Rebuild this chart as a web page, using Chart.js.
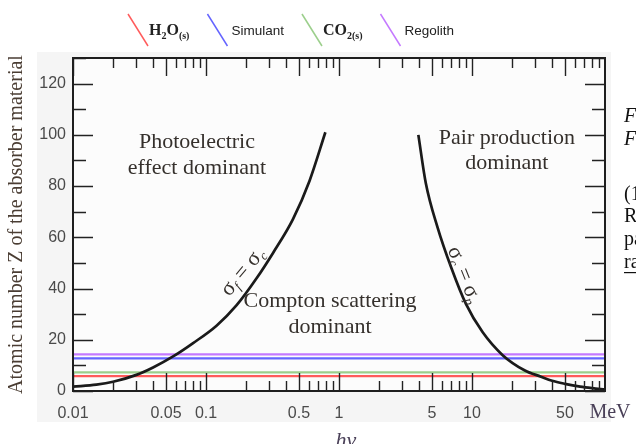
<!DOCTYPE html>
<html><head><meta charset="utf-8">
<script src="https://cdn.jsdelivr.net/npm/chart.js@4.4.1/dist/chart.umd.min.js"></script>
<style>html,body{margin:0;padding:0;background:#fff;}</style>
</head><body>
<canvas id="c" width="636" height="444"></canvas>
<script>
// ---------- data ----------
const seriesNames = ['H₂O₍ₛ₎', 'Simulant', 'CO₂₍ₛ₎', 'Regolith'];
const seriesZ = [5.8, 12.7, 7.3, 14.3];
const energyRange = [0.01, 100];
const photoComptonE = [0.01, 0.015, 0.02, 0.03, 0.04, 0.057, 0.08, 0.12, 0.17, 0.24, 0.32, 0.45, 0.6, 0.79];
const photoComptonZ = [1.7, 2.5, 3.6, 6.3, 9.2, 13.6, 18.7, 25.5, 33.5, 44, 54, 67, 82, 101];
const comptonPairE = [3.95, 4.5, 5.5, 7, 9, 12, 17, 25, 33, 40, 50, 65, 80, 100];
const comptonPairZ = [100, 81, 64, 48, 34, 23, 14, 8, 5.6, 4, 2.8, 1.7, 1.1, 0.6];
const xTickValues = [0.01, 0.05, 0.1, 0.5, 1, 5, 10, 50];
const xTickLabels = ['0.01', '0.05', '0.1', '0.5', '1', '5', '10', '50'];
const yTickValues = [0, 20, 40, 60, 80, 100, 120];
const yRange = [0, 130];
const regionLabels = [['Photoelectric', 'effect dominant'], ['Pair production', 'dominant'], ['Compton scattering', 'dominant']];
const curveLabels = [['σ', 'f', ' = ', 'σ', 'c'], ['σ', 'c', ' = ', 'σ', 'p']];
const axisTitleY = 'Atomic number Z of the absorber material';
const axisTitleX = 'hν';
const unitLabel = 'MeV';
const sideText = ['F', 'F', '(1', 'Re', 'pa', 'ra'];

// ---------- styles ----------
const seriesColors = ['#ff5b5b', '#6464ff', '#9ccf8c', '#c479ff'];
const SERIF = "'Liberation Serif', 'Times New Roman', serif";
const SANS = "'Liberation Sans', Arial, sans-serif";

const hLineSets = seriesNames.map((name, i) => ({
  label: name,
  data: energyRange.map(e => ({ x: e, y: seriesZ[i] })),
  borderColor: seriesColors[i],
  backgroundColor: seriesColors[i],
  borderWidth: 2.2,
  showLine: true,
  pointRadius: 0,
  isLevel: true
}));
const curveSet = (E, Z, name) => ({
  label: name,
  data: E.map((e, i) => ({ x: e, y: Z[i] })),
  borderColor: '#1a1a1a',
  borderWidth: 2.7,
  showLine: true,
  pointRadius: 0,
  cubicInterpolationMode: 'monotone'
});

const subMap = { '₂': '2', '₍': '(', 'ₛ': 's', '₎': ')' };

function drawSegs(ctx, segs, x, y, align) {
  let w = 0;
  segs.forEach(s => { ctx.font = s.font; s.w = ctx.measureText(s.t).width; w += s.w; });
  let cx = align === 'center' ? x - w / 2 : x;
  segs.forEach(s => {
    ctx.font = s.font;
    ctx.fillText(s.t, cx, y + (s.dy || 0));
    cx += s.w;
  });
  return w;
}

const decor = {
  id: 'decor',
  beforeDraw(chart) {
    const { ctx, chartArea: a } = chart;
    ctx.save();
    ctx.fillStyle = '#ffffff';
    ctx.fillRect(0, 0, chart.width, chart.height);
    ctx.fillStyle = '#f5f5f5';
    ctx.fillRect(37, 52, a.right - 37 + 6, 422 - 52);
    ctx.fillStyle = '#fcfcfc';
    ctx.fillRect(a.left, a.top, a.right - a.left, a.bottom - a.top);
    ctx.restore();
  },
  afterDatasetsDraw(chart) {
    const { ctx, scales: { x: xs, y: ys } } = chart;
    ctx.save();
    // region labels
    const anchors = [[0.0855, 92.1], [18.3, 93.9], [0.856, 30]];
    ctx.fillStyle = '#35302c';
    ctx.font = '22px ' + SERIF;
    ctx.textAlign = 'center';
    ctx.textBaseline = 'middle';
    regionLabels.forEach((lines, i) => {
      const px = xs.getPixelForValue(anchors[i][0]);
      const py = ys.getPixelForValue(anchors[i][1]);
      lines.forEach((t, j) => ctx.fillText(t, px, py + (j - (lines.length - 1) / 2) * 25.5));
    });
    // curve labels
    const cAnch = [[0.19, 46.5, -50], [8.7, 45.3, 68]];
    ctx.textAlign = 'left';
    curveLabels.forEach((parts, i) => {
      const px = xs.getPixelForValue(cAnch[i][0]);
      const py = ys.getPixelForValue(cAnch[i][1]);
      ctx.save();
      ctx.translate(px, py);
      ctx.rotate(cAnch[i][2] * Math.PI / 180);
      const segs = parts.map((t, k) => (k === 1 || k === 4)
        ? { t, font: 'italic 13px ' + SERIF, dy: 6 }
        : { t, font: '22px ' + SERIF });
      drawSegs(ctx, segs, 0, 0, 'center');
      ctx.restore();
    });
    ctx.restore();
  },
  afterDraw(chart) {
    const { ctx, chartArea: a, scales: { x: xs, y: ys } } = chart;
    ctx.save();
    ctx.strokeStyle = '#222';
    ctx.lineWidth = 1.4;
    ctx.beginPath();
    for (let d = -2; d <= 1; d++) {
      for (let k = 1; k <= 9; k++) {
        const v = k * Math.pow(10, d);
        const px = Math.round(xs.getPixelForValue(v)) + 0.5;
        const len = (k === 1 || k === 5) ? 18 : 10;
        ctx.moveTo(px, a.bottom); ctx.lineTo(px, a.bottom - len);
        ctx.moveTo(px, a.top); ctx.lineTo(px, a.top + len);
      }
    }
    for (let v = yRange[0]; v <= yRange[1]; v += 10) {
      const py = Math.round(ys.getPixelForValue(v)) + 0.5;
      const len = v % 20 === 0 ? 20 : 13;
      ctx.moveTo(a.left, py); ctx.lineTo(a.left + len, py);
      ctx.moveTo(a.right, py); ctx.lineTo(a.right - len, py);
    }
    ctx.stroke();
    ctx.lineWidth = 2;
    ctx.strokeStyle = '#1e1e1e';
    ctx.strokeRect(a.left, a.top, a.right - a.left, a.bottom - a.top);

    // x title + unit
    ctx.fillStyle = '#4a4058';
    ctx.textAlign = 'center';
    ctx.textBaseline = 'alphabetic';
    ctx.font = 'italic 22px ' + SERIF;
    ctx.fillText(axisTitleX, (a.left + a.right) / 2 + 7, 447);
    ctx.font = '20px ' + SERIF;
    ctx.fillText(unitLabel, a.right + 5, 418);

    // side text (cropped neighbouring text)
    ctx.fillStyle = '#111';
    ctx.textAlign = 'left';
    ctx.textBaseline = 'middle';
    const sideY = [117, 140, 195, 217, 240, 263];
    sideText.forEach((t, i) => {
      ctx.font = (i < 2 ? 'italic ' : '') + '20px ' + SERIF;
      ctx.fillText(t, 624, sideY[i]);
      if (i === sideText.length - 1) ctx.fillRect(624, sideY[i] + 9, 14, 1.2);
    });

    // legend
    let cx = 128;
    const top = 14, bot = 46;
    chart.data.datasets.forEach(ds => {
      if (!ds.isLevel) return;
      ctx.strokeStyle = ds.borderColor;
      ctx.lineWidth = 1.5;
      ctx.beginPath();
      ctx.moveTo(cx, top); ctx.lineTo(cx + 20, bot);
      ctx.stroke();
      const tx = cx + 21;
      ctx.fillStyle = '#222';
      ctx.textBaseline = 'middle';
      let w;
      const chem = [...ds.label].some(ch => subMap[ch]);
      if (chem) {
        const segs = [...ds.label].map(ch => subMap[ch]
          ? { t: subMap[ch], font: 'bold 10px ' + SERIF, dy: 5 }
          : { t: ch, font: 'bold 16px ' + SERIF });
        w = drawSegs(ctx, segs, tx, 31, 'left');
      } else {
        ctx.font = '13.5px ' + SANS;
        ctx.fillText(ds.label, tx + 3, 31);
        w = ctx.measureText(ds.label).width + 3;
      }
      cx = tx + w + 18;
    });
    ctx.restore();
  }
};

new Chart(document.getElementById('c'), {
  type: 'scatter',
  data: {
    datasets: [
      curveSet(photoComptonE, photoComptonZ, 'σf = σc'),
      curveSet(comptonPairE, comptonPairZ, 'σc = σp'),
      ...hLineSets
    ]
  },
  options: {
    responsive: false,
    animation: false,
    layout: { padding: { top: 58, right: 31, left: 0, bottom: 0 } },
    plugins: { legend: { display: false }, tooltip: { enabled: false } },
    scales: {
      x: {
        type: 'logarithmic',
        min: energyRange[0],
        max: energyRange[1],
        grid: { display: false, drawTicks: false },
        border: { display: false },
        afterBuildTicks: s => { s.ticks = xTickValues.map(v => ({ value: v })); },
        afterFit: s => { s.height = 53; },
        ticks: {
          autoSkip: false, maxRotation: 0, padding: 13,
          color: '#4a4a4a',
          font: { family: SANS, size: 16 },
          callback: (v) => { const i = xTickValues.indexOf(v); return i >= 0 ? xTickLabels[i] : ''; }
        }
      },
      y: {
        min: yRange[0],
        max: yRange[1],
        grid: { display: false, drawTicks: false },
        border: { display: false },
        afterBuildTicks: s => { s.ticks = yTickValues.map(v => ({ value: v })); },
        afterFit: s => { s.width = 73; },
        ticks: { padding: 7, color: '#4a4a4a', font: { family: SANS, size: 16 } },
        title: {
          display: true, text: axisTitleY, color: '#4a3d33',
          font: { family: SERIF, size: 20 }, padding: { top: 5, bottom: 0 }
        }
      }
    }
  },
  plugins: [decor]
});
</script>
</body></html>
